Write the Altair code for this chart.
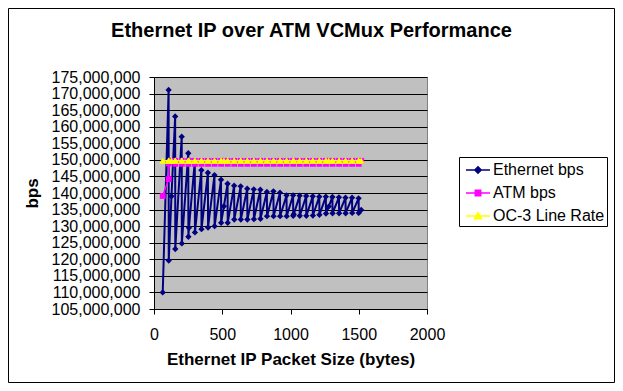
import altair as alt
import pandas as pd

# ---- data ----
packet_size = [64, 107, 108, 128, 155, 156, 203, 204, 251, 252, 256, 299, 300,
               347, 348, 395, 396, 443, 444, 491, 492, 512, 539, 540, 587, 588,
               635, 636, 683, 684, 731, 732, 779, 780, 827, 828, 875, 876, 923, 924,
               971, 972, 1019, 1020, 1024, 1067, 1068, 1115, 1116, 1163, 1164,
               1211, 1212, 1259, 1260, 1280, 1307, 1308, 1355, 1356, 1403, 1404,
               1451, 1452, 1499, 1500, 1518]

ethernet_mbps = [110.0, 171.1, 119.6, 139.0, 163.1, 123.1, 157.0, 124.8, 152.0, 126.8, 129.5,
                 149.6, 128.1, 146.9, 129.1, 146.1, 129.6, 145.4, 130.0, 144.0, 131.0, 136.0,
                 142.8, 131.0, 142.2, 132.0, 142.0, 132.0, 141.3, 132.0, 141.1, 132.1,
                 141.0, 132.2, 140.3, 133.0, 140.5, 133.0, 140.1, 133.0, 139.3, 133.0,
                 139.3, 133.1, 133.6, 139.2, 133.1, 139.1, 133.1, 139.0, 133.2,
                 138.9, 133.4, 138.9, 133.8, 135.9, 138.8, 133.9, 138.7, 133.9, 138.6, 133.9,
                 138.6, 134.0, 138.4, 134.0, 134.9]

atm_mbps = [139.1, 144.2, 148.9, 149.7, 149.7, 148.8, 149.7, 148.8, 149.7, 148.8, 149.7,
            149.7, 148.8, 149.7, 148.8, 149.7, 148.8, 149.7, 148.8, 149.7, 148.8, 149.7,
            149.7, 148.8, 149.7, 148.8, 149.7, 148.8, 149.7, 148.8, 149.7, 148.8,
            149.7, 148.8, 149.7, 148.8, 149.7, 148.8, 149.7, 148.8, 149.7, 148.8,
            149.7, 148.8, 149.7, 149.7, 148.8, 149.7, 148.8, 149.7, 148.8,
            149.7, 148.8, 149.7, 148.8, 149.7, 149.7, 148.8, 149.7, 148.8, 149.7, 148.8,
            149.7, 148.8, 149.7, 148.8, 149.7]

oc3_mbps = [149.76] * len(packet_size)

series_names = ["Ethernet bps", "ATM bps", "OC-3 Line Rate"]
series_colors = ["#000080", "#FF00FF", "#FFFF00"]
series_shapes = ["diamond", "square", "triangle-up"]
legend_paths = [
    "M-1.2,0H1.2M0,-0.32L0.32,0L0,0.32L-0.32,0Z",
    "M-1.2,0H1.2M-0.27,-0.27H0.27V0.27H-0.27Z",
    "M-1.2,0H1.2M0,-0.32L0.34,0.28H-0.34Z",
]
x_ticks = [0, 500, 1000, 1500, 2000]
y_ticks = list(range(105_000_000, 175_000_001, 5_000_000))

# ---- table ----
rows = []
for name, vals in zip(series_names, [ethernet_mbps, atm_mbps, oc3_mbps]):
    for s, v in zip(packet_size, vals):
        rows.append({"size": s, "bps": v * 1_000_000, "series": name})
df = pd.DataFrame(rows)

FONT = "Liberation Sans"
W, H = 273, 232

x_enc = alt.X("size:Q", scale=alt.Scale(domain=[0, 2000], nice=False),
              axis=alt.Axis(values=x_ticks, format="d", title="Ethernet IP Packet Size (bytes)",
                            grid=False, tickSize=5, labelPadding=12,
                            titleY=50, titleBaseline="middle", labelFlush=False))
y_enc = alt.Y("bps:Q", scale=alt.Scale(domain=[105_000_000, 175_000_000], nice=False, zero=False),
              axis=alt.Axis(values=y_ticks, format=",d", title="bps", grid=True,
                            tickSize=5, labelPadding=9, titleAngle=270,
                            titleX=-122, titleY=H / 2, titleAlign="center",
                            titleBaseline="middle", labelFlush=False))

border = alt.Chart(pd.DataFrame({"b": [0]})).mark_rect(
    fillOpacity=0, stroke="black", strokeWidth=1
).encode(x=alt.value(-145.5), x2=alt.value(W + 187.5),
         y=alt.value(-68.5), y2=alt.value(H + 73.5))

layers = [border]
widths = [2, 1.5, 1.5]
sizes = [40, 34, 50]
for name, col, shp, lw, sz in zip(series_names, series_colors, series_shapes, widths, sizes):
    base = alt.Chart(df).transform_filter(alt.datum.series == name)
    layers.append(base.mark_line(color=col, strokeWidth=lw).encode(x=x_enc, y=y_enc))
    layers.append(base.mark_point(filled=True, shape=shp, size=sz, color=col, opacity=1)
                  .encode(x=x_enc, y=y_enc))

legend_layer = alt.Chart(df).transform_filter("datum.bps < 0").mark_point(
    filled=True, opacity=1
).encode(
    x=x_enc, y=y_enc,
    fill=alt.Fill("series:N", title=None,
                  scale=alt.Scale(domain=series_names, range=series_colors)),
    stroke=alt.Stroke("series:N", title=None,
                      scale=alt.Scale(domain=series_names, range=series_colors)),
    shape=alt.Shape("series:N", title=None,
                    scale=alt.Scale(domain=series_names, range=legend_paths)),
)
layers.append(legend_layer)

chart = alt.layer(*layers).properties(
    width=W, height=H,
    padding={"left": 146, "top": 69, "right": 188, "bottom": 74},
    autosize=alt.AutoSizeParams(type="none"),
    title=alt.Title("Ethernet IP over ATM VCMux Performance", font=FONT, fontSize=20,
                    fontWeight="bold", color="black", anchor="middle", frame="group",
                    dx=21, dy=33, offset=0),
).configure(
    background="white"
).configure_view(
    fill="#C0C0C0", stroke="#808080", strokeWidth=1
).configure_axis(
    labelFont=FONT, labelFontSize=16, labelColor="black",
    titleFont=FONT, titleFontSize=17, titleFontWeight="bold", titleColor="black",
    domainColor="black", tickColor="black", gridColor="black", gridWidth=1,
    domainWidth=1, tickWidth=1
).configure_legend(
    orient="none", legendX=305, legendY=80, direction="vertical",
    padding=2, strokeColor="black", fillColor="white", cornerRadius=0,
    labelFont=FONT, labelFontSize=16, labelColor="black", labelOffset=4,
    symbolSize=400, symbolStrokeWidth=1.5, symbolOffset=6, rowPadding=4,
    labelLimit=200
)

chart.save("out.html", embed_options={"renderer": "svg", "actions": False})
